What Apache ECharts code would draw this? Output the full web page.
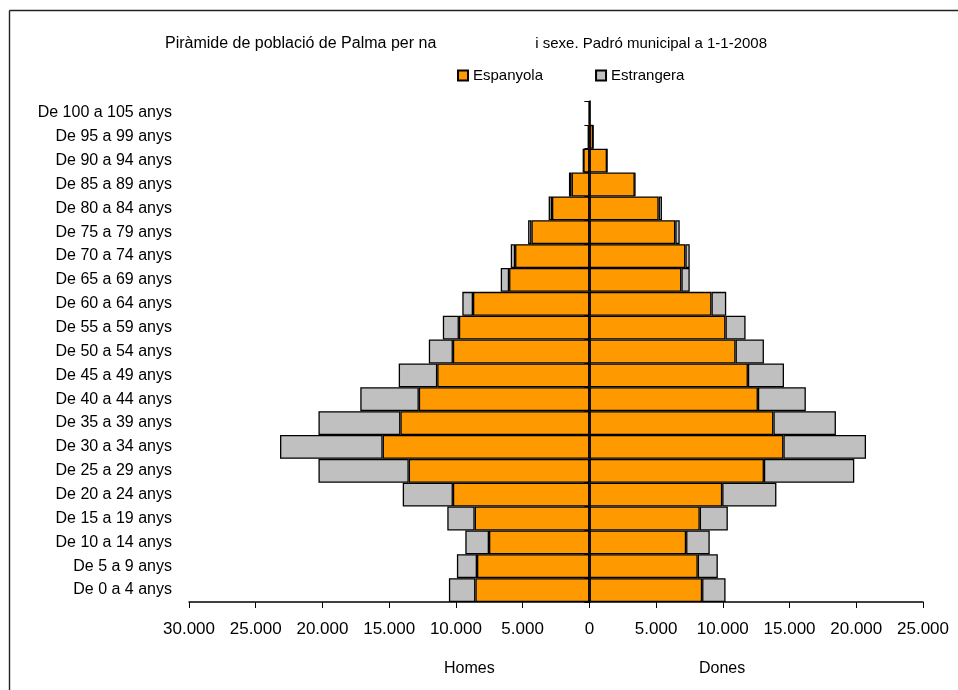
<!DOCTYPE html>
<html>
<head>
<meta charset="utf-8">
<title>Piràmide de població de Palma</title>
<script src="https://cdn.jsdelivr.net/npm/echarts@6/dist/echarts.min.js"></script>
<style>
  html, body { margin: 0; padding: 0; background: #fff; }
  #chart { width: 958px; height: 690px; }
</style>
</head>
<body>
<div id="chart"></div>
<script>
// grups d'edat, de baix a dalt
const categories = [
  'De 0 a 4 anys', 'De 5 a 9 anys', 'De 10 a 14 anys', 'De 15 a 19 anys',
  'De 20 a 24 anys', 'De 25 a 29 anys', 'De 30 a 34 anys', 'De 35 a 39 anys',
  'De 40 a 44 anys', 'De 45 a 49 anys', 'De 50 a 54 anys', 'De 55 a 59 anys',
  'De 60 a 64 anys', 'De 65 a 69 anys', 'De 70 a 74 anys', 'De 75 a 79 anys',
  'De 80 a 84 anys', 'De 85 a 89 anys', 'De 90 a 94 anys', 'De 95 a 99 anys',
  'De 100 a 105 anys'
];

// homes (es dibuixen a l'esquerra)
const homesEspanyola = [8540, 8420, 7520, 8595, 10225, 13535, 15490, 14160, 12780, 11400, 10225, 9775, 8720, 6015, 5565, 4340, 2800, 1330, 450, 80, 5];
const homesEstrangera = [1985, 1505, 1775, 2050, 3760, 6765, 7690, 6140, 4385, 2885, 1805, 1205, 800, 625, 325, 250, 250, 200, 10, 5, 0];

// dones (a la dreta)
const donesEspanyola = [8450, 8120, 7250, 8270, 9955, 13080, 14540, 13790, 12630, 11880, 10955, 10200, 9150, 6895, 7195, 6440, 5190, 3400, 1320, 280, 20];
const donesEstrangera = [1755, 1505, 1770, 2105, 4060, 6770, 6190, 4685, 3590, 2705, 2125, 1505, 1105, 625, 325, 330, 250, 35, 20, 10, 0];

const xTicks = { min: -30000, max: 25000, interval: 5000 };

const FONT = "'Liberation Sans', Arial, sans-serif";
const ORANGE = '#FF9900';
const GREY = '#C0C0C0';

const fmt = (v) => String(Math.abs(v)).replace(/\B(?=(\d{3})+(?!\d))/g, '.');
const neg = (arr) => arr.map((v) => -v);

const chart = echarts.init(document.getElementById('chart'));

const barStyle = (color) => ({ color: color, borderColor: '#000', borderWidth: 1.3 });

chart.setOption({
  animation: false,
  textStyle: { fontFamily: FONT, color: '#000' },
  title: [
    { text: 'Piràmide de població de Palma per na', left: 160, top: 31, textStyle: { fontFamily: FONT, fontSize: 16, fontWeight: 'normal', color: '#000' } },
    { text: 'i sexe. Padró municipal a 1-1-2008', right: 186, top: 31, textStyle: { fontFamily: FONT, fontSize: 15, fontWeight: 'normal', color: '#000' } }
  ],
  legend: {
    data: ['Espanyola', 'Estrangera'],
    left: 452,
    top: 63,
    itemWidth: 10,
    itemHeight: 10,
    itemGap: 52,
    icon: 'rect',
    textStyle: { fontFamily: FONT, fontSize: 15, color: '#000' }
  },
  grid: { left: 189, right: 35, top: 101, bottom: 88 },
  xAxis: {
    type: 'value',
    min: xTicks.min,
    max: xTicks.max,
    interval: xTicks.interval,
    splitLine: { show: false },
    axisLine: { show: true, onZero: false, lineStyle: { color: '#000', width: 1.5 } },
    axisTick: { show: true, length: 6, lineStyle: { color: '#000' } },
    axisLabel: { color: '#000', fontSize: 17, margin: 19, formatter: fmt }
  },
  yAxis: [
    {
      type: 'category',
      data: categories,
      position: 'left',
      axisLine: { show: false, onZero: false },
      axisTick: { show: false },
      axisLabel: { color: '#000', fontSize: 16, margin: 17 }
    },
    {
      type: 'category',
      data: categories,
      z: 10,
      axisLine: { show: true, onZero: true, lineStyle: { color: '#000', width: 1.5 } },
      axisTick: { show: true, inside: true, length: 5, lineStyle: { color: '#000' } },
      axisLabel: { show: false }
    }
  ],
  series: [
    { name: 'Espanyola', type: 'bar', stack: 'total', data: neg(homesEspanyola), itemStyle: barStyle(ORANGE), barCategoryGap: '0%' },
    { name: 'Estrangera', type: 'bar', stack: 'total', data: neg(homesEstrangera), itemStyle: barStyle(GREY), barCategoryGap: '0%' },
    { name: 'Espanyola', type: 'bar', stack: 'total', data: donesEspanyola, itemStyle: barStyle(ORANGE), barCategoryGap: '0%' },
    { name: 'Estrangera', type: 'bar', stack: 'total', data: donesEstrangera, itemStyle: barStyle(GREY), barCategoryGap: '0%' }
  ],
  graphic: [
    { type: 'line', shape: { x1: 9.5, y1: 10.5, x2: 958, y2: 10.5 }, style: { stroke: '#222', lineWidth: 1.6 } },
    { type: 'line', shape: { x1: 9.5, y1: 10.5, x2: 9.5, y2: 690 }, style: { stroke: '#222', lineWidth: 1.4 } },
    { type: 'text', left: 444, top: 661, style: { text: 'Homes', font: '16px ' + FONT, fill: '#000' } },
    { type: 'text', left: 699, top: 661, style: { text: 'Dones', font: '16px ' + FONT, fill: '#000' } }
  ]
});

window.addEventListener('resize', () => chart.resize());
</script>
</body>
</html>
